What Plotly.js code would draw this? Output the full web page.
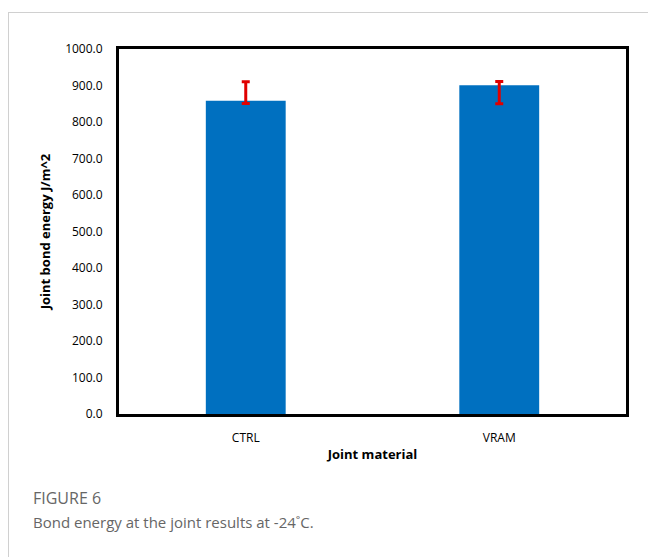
<!DOCTYPE html>
<html>
<head>
<meta charset="utf-8">
<script src="https://cdn.plot.ly/plotly-3.0.1.min.js"></script>
<style>
html,body{margin:0;padding:0;background:#fff;}
#wrap{position:relative;width:648px;height:557px;}
#chart{position:absolute;left:0;top:0;width:648px;height:557px;}
#frame{position:absolute;left:8px;top:12px;width:640px;height:545px;border-top:1px solid #d0d0d0;border-left:1px solid #d0d0d0;pointer-events:none;}
</style>
</head>
<body>
<div id="wrap">
<div id="chart"></div>
<div id="frame"></div>
</div>
<script>
const categories = ["CTRL", "VRAM"];
const energy = [858, 901];
const errPlus = [52, 10];
const errMinus = [7, 51];
const yTickVals = [0,100,200,300,400,500,600,700,800,900,1000];

const trace = {
  type: 'bar',
  x: categories,
  y: energy,
  marker: {color: '#0070C0'},
  error_y: {
    type: 'data', symmetric: false,
    array: errPlus, arrayminus: errMinus,
    color: '#E00000', thickness: 3, width: 4
  },
  hoverinfo: 'none'
};

const layout = {
  width: 648, height: 557,
  margin: {l: 119, r: 22, t: 49, b: 143},
  paper_bgcolor: '#fff', plot_bgcolor: '#fff',
  showlegend: false,
  bargap: 0.685,
  font: {family: 'Open Sans, sans-serif', size: 12, color: '#000'},
  xaxis: {
    showline: true, linecolor: '#000', linewidth: 3, mirror: true,
    ticks: 'outside', ticklen: 11, tickcolor: 'rgba(0,0,0,0)',
    tickfont: {size: 12, color: '#000'},
    title: {text: '<b>Joint material</b>', font: {size: 13}, standoff: 5}
  },
  yaxis: {
    range: [0, 1000], tickvals: yTickVals, tickformat: '.1f',
    showgrid: false, zeroline: false,
    showline: true, linecolor: '#000', linewidth: 3, mirror: true,
    ticks: 'outside', ticklen: 11, tickcolor: 'rgba(0,0,0,0)',
    tickfont: {size: 12, color: '#000'},
    title: {text: '<b>Joint bond energy J/m^2</b>', font: {size: 13}, standoff: 12}
  },
  annotations: [
    {xref: 'paper', yref: 'paper', x: -0.174, y: -0.23, xanchor: 'left', yanchor: 'middle',
     text: 'FIGURE 6', showarrow: false, font: {size: 16, color: '#666', family: 'Open Sans, sans-serif'}},
    {xref: 'paper', yref: 'paper', x: -0.174, y: -0.295, xanchor: 'left', yanchor: 'middle',
     text: 'Bond energy at the joint results at -24˚C.', showarrow: false, font: {size: 15, color: '#666', family: 'Open Sans, sans-serif'}}
  ]
};

Plotly.newPlot('chart', [trace], layout, {displayModeBar: false, staticPlot: true});
</script>
</body>
</html>
